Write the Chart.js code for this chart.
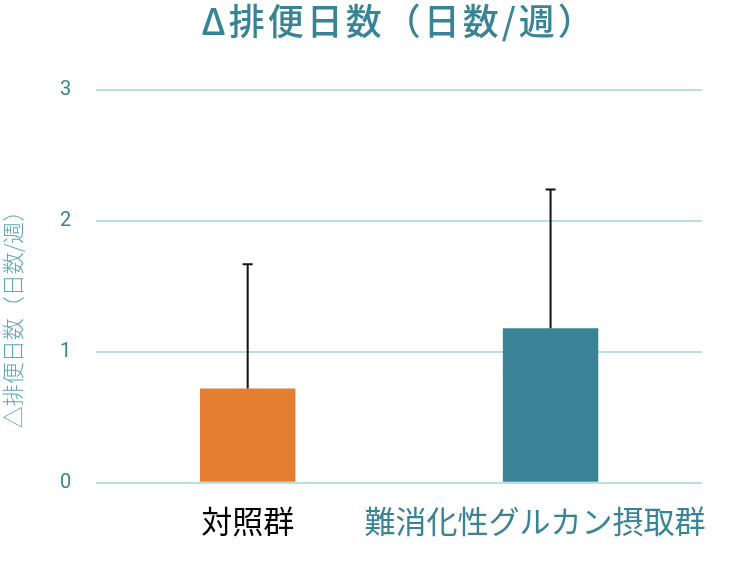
<!DOCTYPE html>
<html>
<head>
<meta charset="utf-8">
<script src="https://cdn.jsdelivr.net/npm/chart.js@4"></script>
<style>
  html, body { margin: 0; padding: 0; background: #fff; }
  #wrap { width: 730px; height: 572px; }
</style>
</head>
<body>
<div id="wrap"><canvas id="chart"></canvas></div>
<script>
const categories = ['対照群', '難消化性グルカン摂取群']
const means = [0.72, 1.18]
const upperErrors = [1.67, 2.24]
const barColors = ['#e67e31', '#388496']
const labelColors = ['#000000', '#388496']
const yTicks = [0, 1, 2, 3]
const chartTitle = 'Δ排便日数（日数/週）'
const yTitle = '△排便日数（日数/週）'

const teal = '#388496'
const gridColor = '#b9dfe5'

// error bars drawn from the y scale
const errorBars = {
  id: 'errorBars',
  afterDatasetsDraw(chart) {
    const ctx = chart.ctx
    const y = chart.scales.y
    const meta = chart.getDatasetMeta(0)
    ctx.save()
    ctx.strokeStyle = '#111'
    ctx.lineWidth = 2
    meta.data.forEach(function (bar, i) {
      const top = y.getPixelForValue(upperErrors[i])
      ctx.beginPath()
      ctx.moveTo(bar.x, bar.y)
      ctx.lineTo(bar.x, top)
      ctx.moveTo(bar.x - 5, top)
      ctx.lineTo(bar.x + 5, top)
      ctx.stroke()
    })
    ctx.restore()
  },
}

// titles are placed off-centre in the original, so draw them by hand
const titles = {
  id: 'titles',
  afterDraw(chart) {
    const ctx = chart.ctx
    ctx.save()
    ctx.fillStyle = teal
    ctx.font = '500 36px "Noto Sans CJK JP"'
    ctx.letterSpacing = '3px'
    ctx.textAlign = 'center'
    ctx.textBaseline = 'middle'
    ctx.fillText(chartTitle, 399, 21)

    ctx.letterSpacing = '0px'
    ctx.fillStyle = '#5aa6b4'
    ctx.font = '300 22px "Noto Sans CJK JP"'
    ctx.translate(13, 314)
    ctx.rotate(-Math.PI / 2)
    ctx.fillText(yTitle, 0, 0)
    ctx.restore()
  },
}

const chart = new Chart(document.getElementById('chart'), {
  type: 'bar',
  data: {
    labels: categories,
    datasets: [
      {
        data: means,
        backgroundColor: barColors,
        categoryPercentage: 1,
        barPercentage: 0.315,
      },
    ],
  },
  plugins: [errorBars, titles],
  options: {
    responsive: true,
    maintainAspectRatio: false,
    animation: false,
    layout: { padding: { top: 90, right: 28, bottom: 20, left: 35 } },
    plugins: {
      legend: { display: false },
      tooltip: { enabled: false },
      title: { display: false },
    },
    scales: {
      x: {
        grid: { display: false },
        border: { display: false },
        afterFit: function (axis) {
          axis.paddingLeft = 0
          axis.paddingRight = 0
        },
        ticks: {
          color: function (c) {
            return labelColors[c.index]
          },
          callback: function (value, i) {
            // long label sits a little left of its bar
            return i === 1 ? categories[i] + '　' : categories[i]
          },
          font: { family: '"Noto Sans CJK JP"', size: 31 },
          maxRotation: 0,
          autoSkip: false,
          padding: 12,
        },
      },
      y: {
        min: 0,
        max: 3,
        afterBuildTicks: function (axis) {
          axis.ticks = yTicks.map(v => ({ value: v }))
        },
        grid: { color: gridColor, lineWidth: 2, drawTicks: false },
        border: { display: false },
        ticks: {
          color: teal,
          font: { family: 'Roboto', size: 20 },
          padding: 25,
        },
      },
    },
  },
})
</script>
</body>
</html>
